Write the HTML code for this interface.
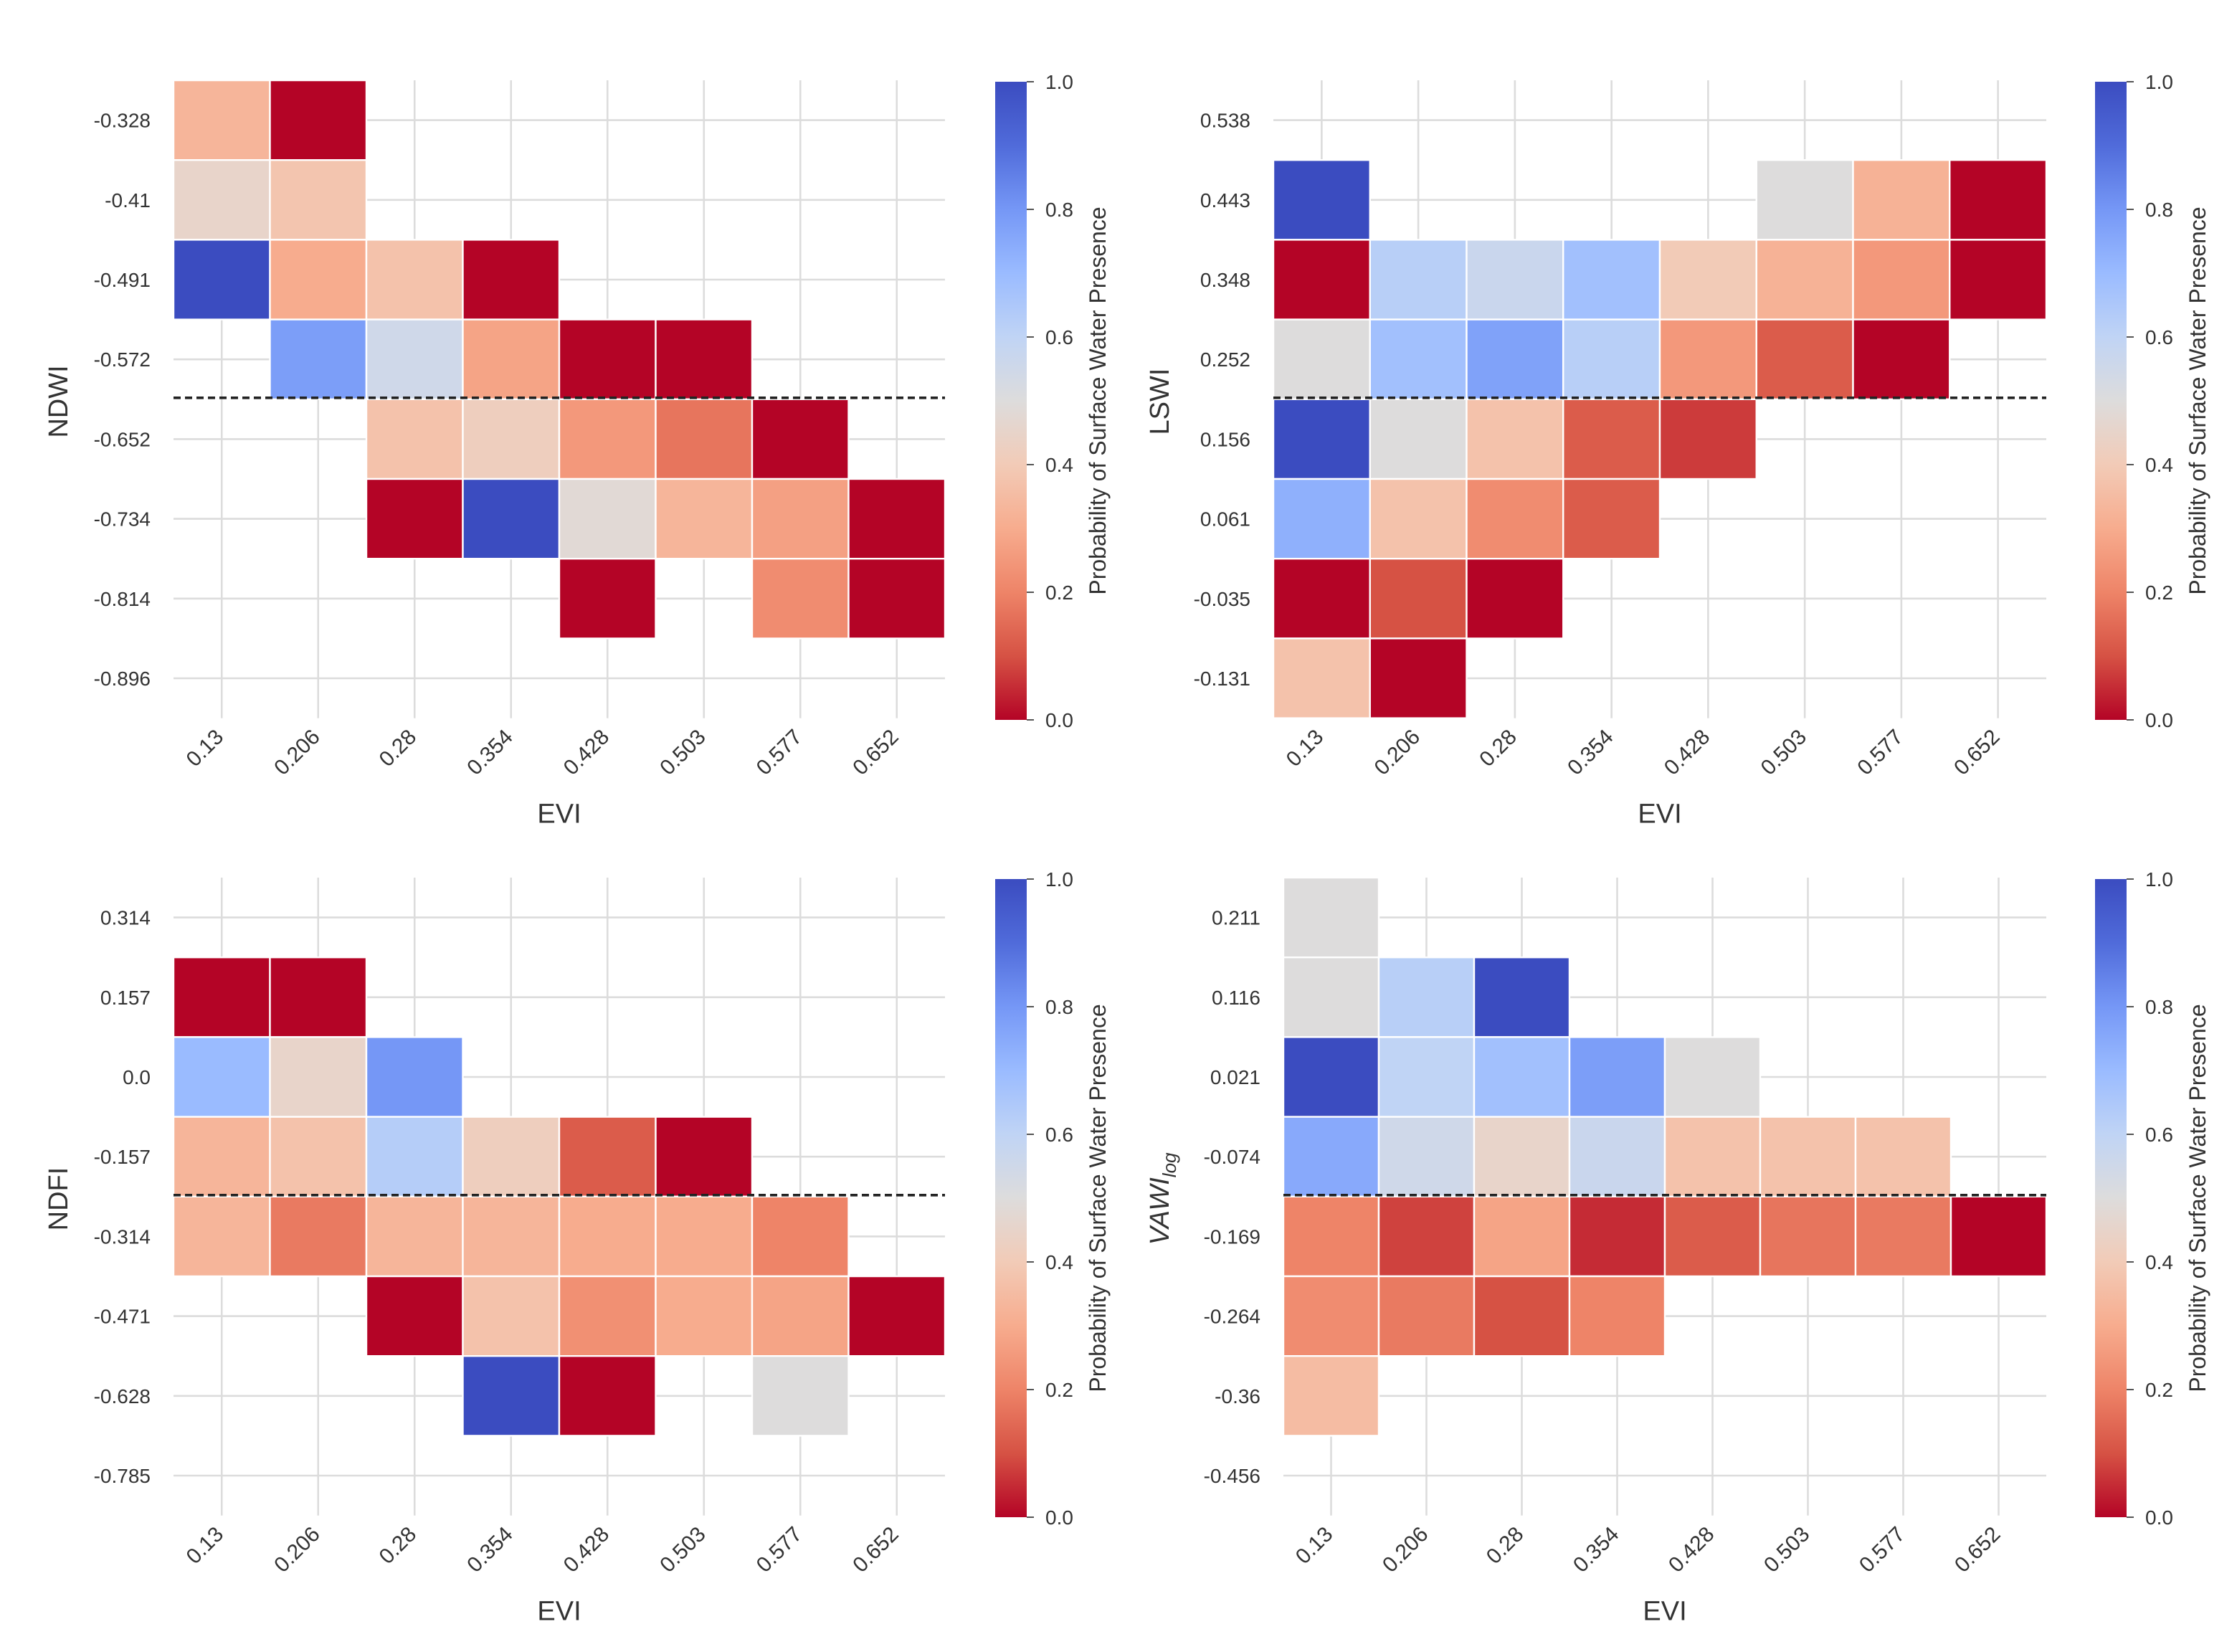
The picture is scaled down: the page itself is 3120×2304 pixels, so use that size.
<!DOCTYPE html>
<html><head><meta charset="utf-8">
<style>html,body{margin:0;padding:0;background:#fff}svg{display:block}</style></head>
<body>
<svg id="fig" width="3120" height="2304" viewBox="0 0 1560 1152" xmlns="http://www.w3.org/2000/svg" font-family="'Liberation Sans', 'DejaVu Sans', sans-serif">
<defs>
<linearGradient id="cbg" x1="0" y1="1" x2="0" y2="0">
<stop offset="0" stop-color="#b40426"/><stop offset="0.1" stop-color="#d65244"/><stop offset="0.2" stop-color="#ee8468"/><stop offset="0.3" stop-color="#f7ac8e"/><stop offset="0.4" stop-color="#f2cbb7"/><stop offset="0.5" stop-color="#dddcdc"/><stop offset="0.6" stop-color="#c0d4f5"/><stop offset="0.7" stop-color="#9abbff"/><stop offset="0.8" stop-color="#7597f6"/><stop offset="0.9" stop-color="#506bda"/><stop offset="1" stop-color="#3b4cc0"/>
</linearGradient>
</defs>
</svg>
<script>
const xTicks = ["0.13","0.206","0.28","0.354","0.428","0.503","0.577","0.652"];
const ndwiTicks = ["-0.328","-0.41","-0.491","-0.572","-0.652","-0.734","-0.814","-0.896"];
const lswiTicks = ["0.538","0.443","0.348","0.252","0.156","0.061","-0.035","-0.131"];
const ndfiTicks = ["0.314","0.157","0.0","-0.157","-0.314","-0.471","-0.628","-0.785"];
const vawiTicks = ["0.211","0.116","0.021","-0.074","-0.169","-0.264","-0.36","-0.456"];
const N = null;
const ndwiVals = [
 [0.33,0,N,N,N,N,N,N],
 [0.45,0.38,N,N,N,N,N,N],
 [1.0,0.3,0.37,0,N,N,N,N],
 [N,0.78,0.55,0.28,0,0,N,N],
 [N,N,0.37,0.42,0.25,0.17,0,N],
 [N,N,0,1.0,0.48,0.33,0.27,0],
 [N,N,N,N,0,N,0.22,0],
 [N,N,N,N,N,N,N,N]];
const lswiVals = [
 [N,N,N,N,N,N,N,N],
 [1.0,N,N,N,N,0.5,0.32,0],
 [0,0.62,0.57,0.68,0.4,0.32,0.25,0],
 [0.5,0.68,0.77,0.62,0.25,0.12,0,N],
 [1.0,0.5,0.37,0.12,0.07,N,N,N],
 [0.73,0.37,0.22,0.12,N,N,N,N],
 [0,0.1,0,N,N,N,N,N],
 [0.37,0,N,N,N,N,N,N]];
const ndfiVals = [
 [N,N,N,N,N,N,N,N],
 [0,0,N,N,N,N,N,N],
 [0.7,0.45,0.8,N,N,N,N,N],
 [0.33,0.37,0.63,0.42,0.12,0,N,N],
 [0.33,0.18,0.33,0.33,0.3,0.3,0.2,N],
 [N,N,0,0.37,0.23,0.3,0.28,0],
 [N,N,N,1.0,0,N,0.5,N],
 [N,N,N,N,N,N,N,N]];
const vawiVals = [
 [0.5,N,N,N,N,N,N,N],
 [0.5,0.62,1.0,N,N,N,N,N],
 [1.0,0.6,0.68,0.78,0.5,N,N,N],
 [0.75,0.55,0.45,0.57,0.37,0.37,0.37,N],
 [0.2,0.08,0.28,0.05,0.12,0.17,0.18,0],
 [0.22,0.18,0.1,0.2,N,N,N,N],
 [0.35,N,N,N,N,N,N,N],
 [N,N,N,N,N,N,N,N]];
const thresholdRow = 4;
const cbTicks = [0,0.2,0.4,0.6,0.8,1.0];

const stops = ["#b40426","#d65244","#ee8468","#f7ac8e","#f2cbb7","#dddcdc","#c0d4f5","#9abbff","#7597f6","#506bda","#3b4cc0"];
function hex(h){return [1,3,5].map(i=>parseInt(h.substr(i,2),16));}
function color(p){
  const t=Math.max(0,Math.min(1,p))*10, i=Math.min(9,Math.floor(t)), f=t-i;
  const a=hex(stops[i]), b=hex(stops[i+1]);
  return "rgb("+a.map((v,k)=>Math.round(v+(b[k]-v)*f)).join(",")+")";
}
const svg=document.getElementById('fig');
const NS="http://www.w3.org/2000/svg";
function el(tag,attrs,parent){const e=document.createElementNS(NS,tag);for(const k in attrs)e.setAttribute(k,attrs[k]);(parent||svg).appendChild(e);return e;}

function panel(opt){
  const g=el('g',{});
  
  
  const x0=opt.x0, x1=opt.x1, y0=opt.y0, rows=8, cols=8;
  const cw=(x1-x0)/cols, rh=55.6, y1=y0+rows*rh;
  const xs=c=>x0+c*cw, ys=r=>y0+r*rh;
  for(let c=0;c<cols;c++){
    const l=el('line',{x1:xs(c)+cw/2,x2:xs(c)+cw/2,y1:y0,y2:y1,stroke:'#dcdcdc','stroke-width':1.3},g);
    
    
  }
  for(let r=0;r<rows;r++){
    const l=el('line',{x1:x0,x2:x1,y1:ys(r)+rh/2,y2:ys(r)+rh/2,stroke:'#dcdcdc','stroke-width':1.3},g);
    
    
  }
  opt.vals.forEach((row,r)=>row.forEach((v,c)=>{
    if(v===null)return;
    const rc=el('rect',{x:xs(c),y:ys(r),width:cw,height:rh,fill:color(v),stroke:'#fff','stroke-width':1.2},g);
    
    
  }));
  const d=el('line',{x1:x0,x2:x1,y1:ys(thresholdRow)-1,y2:ys(thresholdRow)-1,stroke:'#222','stroke-width':1.8,'stroke-dasharray':'5,3'},g);
  
  
  opt.yTicks.forEach((t,r)=>{
    const tx=el('text',{x:x0-16,y:ys(r)+rh/2+5,'text-anchor':'end','font-size':14,fill:'#333'},g);
    tx.textContent=t;
    
    
  });
  xTicks.forEach((t,c)=>{
    const cx=xs(c)+cw/2+2, cy=y1+14;
    const tx=el('text',{x:cx,y:cy,'text-anchor':'end','font-size':15,fill:'#333',transform:`rotate(-45 ${cx} ${cy})`},g);
    tx.textContent=t;
    
    
  });
  const xl=el('text',{x:(x0+x1)/2,y:y1+73,'text-anchor':'middle','font-size':19,fill:'#333'},g);
  xl.textContent='EVI';
  
  
  const yl=el('text',{x:0,y:0,'text-anchor':'middle','font-size':19,fill:'#333',transform:`translate(${opt.ylx} ${y0+224}) rotate(-90)`},g);
  if(opt.vawi){
    yl.innerHTML='<tspan font-style="italic">VAWI</tspan><tspan font-style="italic" font-size="13" dy="5">log</tspan>';
  } else yl.textContent=opt.name.toUpperCase();
  
  
  const cbx=opt.cbx, cby0=y0+1, cby1=y0+446;
  const cb=el('rect',{x:cbx,y:cby0,width:22,height:cby1-cby0,fill:'url(#cbg)'},g);
  
  
  cbTicks.forEach(v=>{
    const yy=cby1-v*(cby1-cby0);
    el('line',{x1:cbx+22,x2:cbx+27,y1:yy,y2:yy,stroke:'#555','stroke-width':1},g);
    const tx=el('text',{x:cbx+35,y:yy+5,'font-size':14,fill:'#333'},g);
    tx.textContent=v.toFixed(1);
    
    
  });
  const ct=el('text',{x:0,y:0,'text-anchor':'middle','font-size':16,fill:'#333',transform:`translate(${cbx+77} ${(cby0+cby1)/2}) rotate(-90)`},g);
  ct.textContent='Probability of Surface Water Presence';
  
  
}
panel({name:'ndwi',vals:ndwiVals,yTicks:ndwiTicks,x0:121,x1:659,y0:56,cbx:694,ylx:47});
panel({name:'lswi',vals:lswiVals,yTicks:lswiTicks,x0:888,x1:1427,y0:56,cbx:1461,ylx:815});
panel({name:'ndfi',vals:ndfiVals,yTicks:ndfiTicks,x0:121,x1:659,y0:612,cbx:694,ylx:47});
panel({name:'vawi',vals:vawiVals,yTicks:vawiTicks,x0:895,x1:1427,y0:612,cbx:1461,ylx:815,vawi:true});
</script>
</body></html>
